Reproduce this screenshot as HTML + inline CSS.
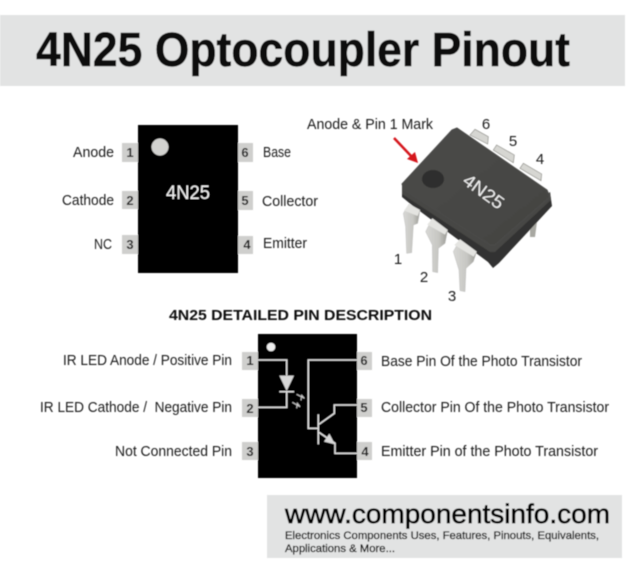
<!DOCTYPE html>
<html><head><meta charset="utf-8"><style>
html,body{margin:0;padding:0;background:#fff}
svg{display:block}
text{font-family:"Liberation Sans",sans-serif}
</style></head><body>
<svg width="640" height="577" viewBox="0 0 640 577" xmlns="http://www.w3.org/2000/svg">
<defs>
<filter id="b" x="-5%" y="-5%" width="110%" height="110%"><feGaussianBlur stdDeviation="0.4"/></filter>
<linearGradient id="top" x1="0" y1="0" x2="1" y2="1"><stop offset="0" stop-color="#4b4b49"/><stop offset="1" stop-color="#444442"/></linearGradient>
<linearGradient id="leg" x1="0" y1="0" x2="1" y2="0"><stop offset="0" stop-color="#d8d8d5"/><stop offset="0.6" stop-color="#c6c6c2"/><stop offset="1" stop-color="#9a9a94"/></linearGradient>
</defs>
<rect width="640" height="577" fill="#fff"/>
<g filter="url(#b)">
<!-- Title banner -->
<rect x="0" y="15" width="625" height="71" fill="#e2e3e3"/>
<text x="36" y="66" font-size="48" font-weight="bold" fill="#0a0a0a" stroke="#0a0a0a" stroke-width="0.5" textLength="534" lengthAdjust="spacingAndGlyphs">4N25 Optocoupler Pinout</text>

<!-- Top-left chip -->
<g fill="#cfcfcd">
<rect x="122" y="143" width="17" height="19"/><rect x="122" y="191" width="17" height="18"/><rect x="122" y="235" width="17" height="19"/>
<rect x="237" y="143" width="16" height="19"/><rect x="237" y="191" width="16" height="19"/><rect x="237" y="236" width="16" height="18"/>
</g>
<rect x="138" y="125" width="100" height="148" fill="#000"/>
<circle cx="160" cy="147" r="8.5" fill="#d2d2d0"/>
<text x="166" y="199" font-size="19.5" fill="#f2f2f2" textLength="44" lengthAdjust="spacingAndGlyphs">4N25</text>
<g font-size="13" font-weight="bold" fill="#222" text-anchor="middle">
<text x="130" y="157">1</text><text x="130" y="205">2</text><text x="130" y="249">3</text>
<text x="245" y="157">6</text><text x="245" y="205">5</text><text x="247" y="249">4</text>
</g>
<g font-size="14.5" fill="#1c1c1c">
<text x="73" y="157" textLength="41" lengthAdjust="spacingAndGlyphs">Anode</text>
<text x="62" y="205" textLength="52" lengthAdjust="spacingAndGlyphs">Cathode</text>
<text x="94" y="249" textLength="18" lengthAdjust="spacingAndGlyphs">NC</text>
<text x="263" y="157" textLength="28" lengthAdjust="spacingAndGlyphs">Base</text>
<text x="262" y="206" textLength="56" lengthAdjust="spacingAndGlyphs">Collector</text>
<text x="263" y="248" textLength="44" lengthAdjust="spacingAndGlyphs">Emitter</text>
</g>

<!-- 3D chip photo -->
<text x="307" y="129" font-size="14.5" fill="#1c1c1c" textLength="126" lengthAdjust="spacingAndGlyphs">Anode &amp; Pin 1 Mark</text>
<g font-size="15" fill="#1c1c1c" text-anchor="middle">
<text x="486" y="129">6</text><text x="513" y="146">5</text><text x="540" y="164">4</text>
<text x="398" y="264">1</text><text x="424" y="282">2</text><text x="452" y="301">3</text>
</g>
<!-- back pins -->
<g transform="translate(395,120) scale(0.3333)">
<g fill="#d6d6d2" stroke="#8c8c86" stroke-width="2">
<polygon points="240,28 280,50 278,72 225,45"/>
<polygon points="305,75 358,105 355,128 295,90"/>
<polygon points="385,130 440,162 438,182 375,145"/>
</g>
</g>
<polygon points="530,220 537,222 535,237 530,237" fill="#a8a8a2"/>
<!-- body -->
<polygon points="402,184 402,197 413,206 488,262 493,268 499,263 552,206 550,192 493,243" fill="#333331"/>
<polygon points="402,184 402,194 490,252 495,252 551,200 550,192 493,243" fill="#474745"/>
<polygon points="457,128 547,190 550,197 495,245 490,245 404,190 402,184 452,130" fill="url(#top)" stroke="#4c4c4a" stroke-width="1" stroke-linejoin="round"/>
<ellipse cx="433" cy="179" rx="11" ry="9" fill="#2f2f2f"/>
<text transform="translate(461.5,183) rotate(36)" font-size="18" fill="#ececec" textLength="46" lengthAdjust="spacingAndGlyphs">4N25</text>
<!-- front pins -->
<g transform="translate(395,190) scale(0.3333)">
<g fill="url(#leg)" stroke="#aaa" stroke-width="1">
<polygon points="42,42 75,60 68,100 55,105 50,188 35,190 32,110 25,70"/>
<polygon points="112,85 158,120 150,160 130,175 128,248 113,245 112,165 92,125"/>
<polygon points="195,148 245,185 235,215 213,235 210,305 195,302 192,240 175,185"/>
</g>
<g fill="#e4e4e1">
<polygon points="42,42 75,60 68,78 27,62"/>
<polygon points="112,85 158,120 150,134 97,104"/>
<polygon points="195,148 245,185 236,200 178,165"/>
</g>
</g>
<!-- red arrow -->
<line x1="394" y1="138" x2="412" y2="157" stroke="#d5151f" stroke-width="2.5"/>
<polygon points="418,163 407,159 415,152" fill="#d5151f"/>

<!-- Heading -->
<text x="169" y="320" font-size="14.5" font-weight="bold" fill="#111" textLength="263" lengthAdjust="spacingAndGlyphs">4N25 DETAILED PIN DESCRIPTION</text>

<!-- Detailed chip -->
<g fill="#cfcfcd">
<rect x="242" y="352" width="17" height="18"/><rect x="242" y="399" width="17" height="18"/><rect x="242" y="442" width="17" height="18"/>
<rect x="356" y="352" width="16" height="18"/><rect x="356" y="399" width="16" height="18"/><rect x="356" y="442" width="16" height="18"/>
</g>
<rect x="258" y="334" width="99" height="144" fill="#000"/>
<g font-size="13" font-weight="bold" fill="#222" text-anchor="middle">
<text x="250" y="365">1</text><text x="250" y="413">2</text><text x="250" y="456">3</text>
<text x="364" y="365">6</text><text x="364" y="412">5</text><text x="365" y="456">4</text>
</g>
<circle cx="271" cy="347" r="4.3" fill="#ededed"/>
<g transform="translate(275,345) scale(0.3333)">
<g fill="none" stroke="#e2e2e2" stroke-width="4.5">
<polyline points="-51,45 35,45 35,92"/>
<polyline points="-51,187 35,187 35,140"/>
<line x1="13" y1="140" x2="57" y2="140"/>
<polyline points="246,45 100,45 100,250 130,250"/>
<line x1="130" y1="208" x2="130" y2="298"/>
<polyline points="132,238 178,205 178,180 246,180"/>
<polyline points="132,262 180,295 180,325 246,325"/>
</g>
<polygon points="13,92 57,92 35,138" fill="#d8d8d8"/>
<polygon points="180,298 147,290 163,266" fill="#d8d8d8"/>
<g fill="none" stroke="#c8c8c8" stroke-width="3">
<polyline points="65,148 88,160 80,151 78,166"/>
<polyline points="52,172 75,185 67,175 65,190"/>
</g>
</g>
<g font-size="14.5" fill="#1c1c1c">
<text x="63" y="365" textLength="169" lengthAdjust="spacingAndGlyphs">IR LED Anode / Positive Pin</text>
<text x="40" y="412" textLength="192" lengthAdjust="spacingAndGlyphs" xml:space="preserve">IR LED Cathode /  Negative Pin</text>
<text x="115" y="456" textLength="117" lengthAdjust="spacingAndGlyphs">Not Connected Pin</text>
<text x="381" y="366" textLength="201" lengthAdjust="spacingAndGlyphs">Base Pin Of the Photo Transistor</text>
<text x="381" y="412" textLength="228" lengthAdjust="spacingAndGlyphs">Collector Pin Of the Photo Transistor</text>
<text x="381" y="456" textLength="217" lengthAdjust="spacingAndGlyphs">Emitter Pin of the Photo Transistor</text>
</g>

<!-- Footer banner -->
<rect x="267" y="495" width="355" height="63" fill="#e2e3e3"/>
<text x="285" y="523" font-size="27" fill="#000" stroke="#000" stroke-width="0.65" textLength="325" lengthAdjust="spacingAndGlyphs">www.componentsinfo.com</text>
<text x="285" y="539" font-size="11" fill="#0c0c0c" stroke="#0c0c0c" stroke-width="0.3" textLength="314" lengthAdjust="spacingAndGlyphs">Electronics Components Uses, Features, Pinouts, Equivalents,</text>
<text x="285" y="552" font-size="11" fill="#0c0c0c" stroke="#0c0c0c" stroke-width="0.3" textLength="110" lengthAdjust="spacingAndGlyphs">Applications &amp; More...</text>
</g>
</svg>
</body></html>
